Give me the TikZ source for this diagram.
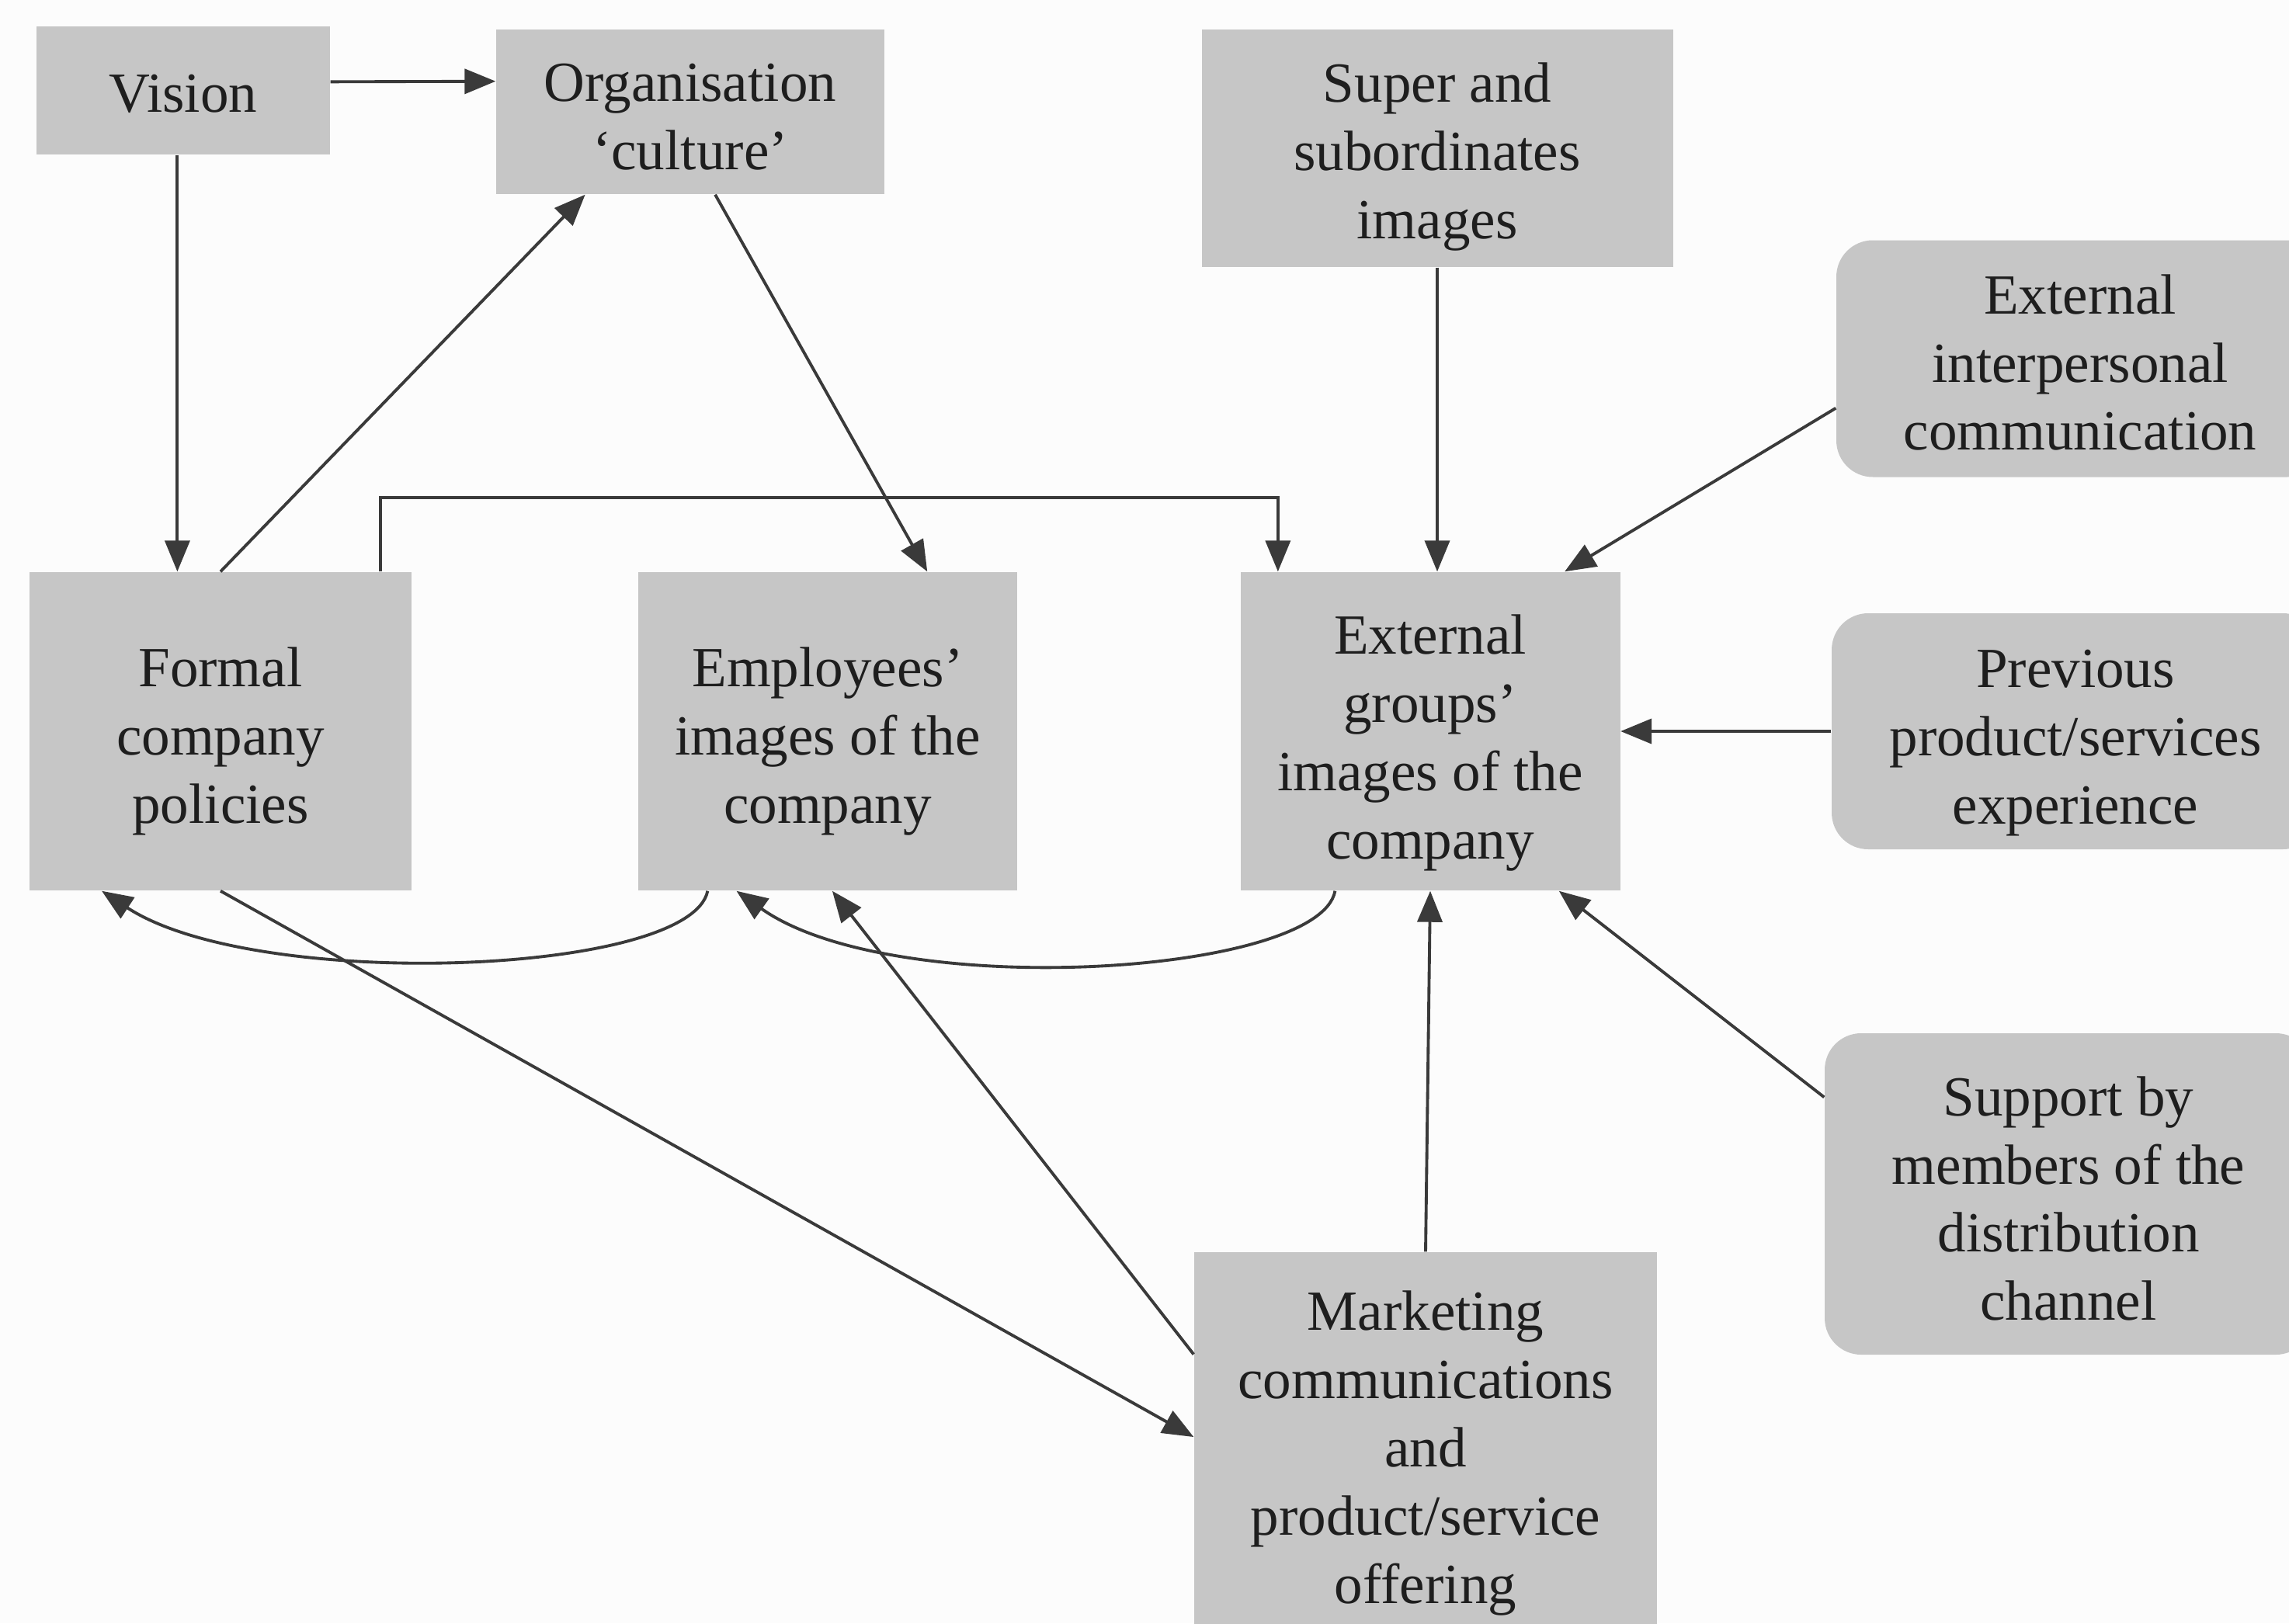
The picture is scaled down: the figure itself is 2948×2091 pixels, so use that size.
\documentclass[tikz,border=0pt]{standalone}
\usepackage{fontspec}
\setmainfont{Liberation Serif}
\usetikzlibrary{arrows.meta,calc}
\definecolor{boxgray}{HTML}{C6C6C6}
\definecolor{linegray}{HTML}{3A3A3A}
\definecolor{inkgray}{HTML}{1E1E1E}
\definecolor{paper}{HTML}{FCFCFC}
\begin{document}
\begin{tikzpicture}[x=0.1mm,y=-0.1mm,
  box/.style={fill=boxgray, inner sep=0pt},
  roundbox/.style={box, rounded corners=4.7mm},
  txt/.style={align=center, text=inkgray, inner sep=0pt,
    font=\fontsize{20.8pt}{25pt}\selectfont},
  link/.style={draw=linegray, line width=1.1pt,
    -{Triangle[length=4mm,width=3.2mm]}}]
  % page
  \useasboundingbox (0,0) rectangle (2948,2091);
  \fill[paper] (0,0) rectangle (2948,2091);
  \clip (0,0) rectangle (2948,2091);

  % boxes, each with its centred caption
  \node[box, minimum width=37.8mm, minimum height=16.5mm,
    label={[txt,yshift=-0.4mm]center:Vision}] (vision) at (236,117) {};
  \node[box, minimum width=50mm, minimum height=21.2mm,
    label={[txt,yshift=-0.7mm]center:{Organisation\\‘culture’}}] (culture) at (889,144) {};
  \node[box, minimum width=60.7mm, minimum height=30.6mm,
    label={[txt,yshift=-1.1mm]center:{Super and\\subordinates\\images}}] (super) at (1851,191) {};
  \node[roundbox, minimum width=62.8mm, minimum height=30.5mm,
    label={[txt,yshift=-0.5mm]center:{External\\interpersonal\\communication}}] (interp) at (2679,462) {};
  \node[box, minimum width=49.2mm, minimum height=41mm,
    label={[txt,yshift=-1.3mm]center:{Formal\\company\\policies}}] (policies) at (284,942) {};
  \node[box, minimum width=48.8mm, minimum height=41mm,
    label={[txt,yshift=-1.3mm]center:{Employees’\\images of the\\company}}] (employees) at (1066,942) {};
  \node[box, minimum width=48.9mm, minimum height=41mm,
    label={[txt,yshift=-1.5mm]center:{External\\groups’\\images of the\\company}}] (extgroups) at (1842,942) {};
  \node[roundbox, minimum width=62.8mm, minimum height=30.4mm,
    label={[txt,yshift=-1.5mm]center:{Previous\\product/services\\experience}}] (previous) at (2673,942) {};
  \node[roundbox, minimum width=62.8mm, minimum height=41.4mm,
    label={[txt,yshift=-0.6mm]center:{Support by\\members of the\\distribution\\channel}}] (support) at (2664,1538) {};
  \node[box, minimum width=59.6mm, minimum height=49.6mm,
    label={[txt,yshift=-1.1mm]center:{Marketing\\communications\\and\\product/service\\offering}}] (marketing) at (1836,1861) {};

  % connectors
  \draw[link] ($(vision.north east)!0.43!(vision.south east)$) -- ($(culture.north west)!0.316!(culture.south west)$);
  \coordinate (v1) at ($(vision.south west)!0.48!(vision.south east)$);
  \draw[link] (v1) -- (v1 |- policies.north);
  \draw[link] (policies.north) -- ($(culture.south west)!0.23!(culture.south east)$);
  \draw[link] ($(culture.south west)!0.564!(culture.south east)$) -- ($(employees.north west)!0.762!(employees.north east)$);

  \coordinate (bus) at (0,641);
  \coordinate (p1) at ($(policies.north west)!0.917!(policies.north east)$);
  \coordinate (e1) at ($(extgroups.north west)!0.1!(extgroups.north east)$);
  \draw[link] (p1) |- (e1 |- bus) -- (e1);

  \draw[link] (super.south) -- (super.south |- extgroups.north);
  \draw[link] ($(interp.north west)!0.708!(interp.south west)$) -- ($(extgroups.north west)!0.853!(extgroups.north east)$);
  \draw[link] (previous.west) -- (extgroups.east);
  \draw[link] ($(support.north west)!0.2!(support.south west)$) -- ($(extgroups.south west)!0.838!(extgroups.south east)$);
  \draw[link] (marketing.north) -- (extgroups.south);
  \draw[link] ($(marketing.north west)!0.266!(marketing.south west)$) -- ($(employees.south west)!0.512!(employees.south east)$);
  \draw[link] (policies.south) -- ($(marketing.north west)!0.48!(marketing.south west)$);

  % feedback curves along the bottom of the middle row
  \draw[link] ($(employees.south west)!0.184!(employees.south east)$) .. controls +(-22,109) and +(198,130) .. ($(policies.south west)!0.19!(policies.south east)$);
  \draw[link] ($(extgroups.south west)!0.25!(extgroups.south east)$) .. controls +(-20,109) and +(201,143) .. ($(employees.south west)!0.26!(employees.south east)$);
\end{tikzpicture}
\end{document}
